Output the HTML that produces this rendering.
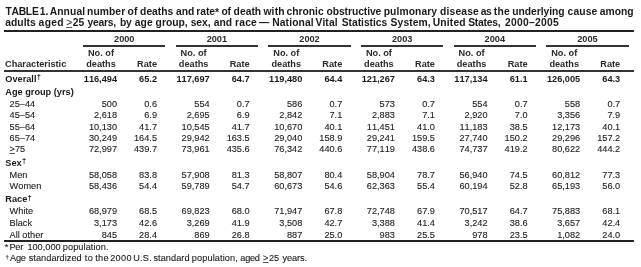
<!DOCTYPE html>
<html><head><meta charset="utf-8"><style>
html,body{margin:0;padding:0;background:#fff;width:641px;height:267px;overflow:hidden;position:relative}
body{filter:blur(0.3px)}
.t{position:absolute;white-space:nowrap;font-kerning:none;font-family:'Liberation Sans', sans-serif;font-size:9.2px;line-height:10px;color:#1a1a1a;-webkit-text-stroke:0.1px #1a1a1a}
.b,.h,.ti{-webkit-text-stroke:0}
.b,.h{font-weight:bold}
.h{color:#2a2a2a}
.ti{font-weight:bold;font-size:10.3px}
.ti.rg{font-weight:normal}
.r{position:absolute}
.rg{font-weight:normal}
sup{vertical-align:baseline;line-height:0;position:relative}
.dg{font-size:7.5px;top:-2.5px;margin-left:0.3px}
.fd{font-size:6px;top:-2px}
u{text-decoration:underline;text-decoration-thickness:1px;text-underline-offset:0.5px;text-decoration-color:#555}
u.rg{margin-right:1px}
</style></head><body>
<div class="t ti" style="left:5.38px;top:6.60px;letter-spacing:-0.228px">TABLE</div>
<div class="t ti" style="left:39.75px;top:6.60px;letter-spacing:0.068px">1.</div>
<div class="t ti" style="left:49.64px;top:6.60px;letter-spacing:0.136px">Annual</div>
<div class="t ti" style="left:87.12px;top:6.60px;letter-spacing:0.053px">number</div>
<div class="t ti" style="left:127.60px;top:6.60px;letter-spacing:0.161px">of</div>
<div class="t ti" style="left:140.08px;top:6.60px;letter-spacing:0.009px">deaths</div>
<div class="t ti" style="left:176.10px;top:6.60px;letter-spacing:-0.115px">and</div>
<div class="t ti" style="left:196.32px;top:6.60px;letter-spacing:-0.054px">rate<span style='position:relative;top:1px'>*</span></div>
<div class="t ti" style="left:221.60px;top:6.60px;letter-spacing:-0.339px">of</div>
<div class="t ti" style="left:233.58px;top:6.60px;letter-spacing:0.023px">death</div>
<div class="t ti" style="left:263.43px;top:6.60px;letter-spacing:0.171px">with</div>
<div class="t ti" style="left:286.60px;top:6.60px;letter-spacing:-0.016px">chronic</div>
<div class="t ti" style="left:326.50px;top:6.60px;letter-spacing:-0.066px">obstructive</div>
<div class="t ti" style="left:383.72px;top:6.60px;letter-spacing:0.085px">pulmonary</div>
<div class="t ti" style="left:439.98px;top:6.60px;letter-spacing:0.180px">disease</div>
<div class="t ti" style="left:480.70px;top:6.60px;letter-spacing:-0.333px">as</div>
<div class="t ti" style="left:493.87px;top:6.60px;letter-spacing:0.214px">the</div>
<div class="t ti" style="left:512.36px;top:6.60px;letter-spacing:-0.047px">underlying</div>
<div class="t ti" style="left:567.50px;top:6.60px;letter-spacing:0.162px">cause</div>
<div class="t ti" style="left:599.70px;top:6.60px;letter-spacing:0.032px">among</div>
<div class="t ti" style="left:5.20px;top:17.60px;letter-spacing:0.059px">adults</div>
<div class="t ti" style="left:38.60px;top:17.60px;letter-spacing:0.314px">aged</div>
<div class="t ti" style="left:72.64px;top:17.60px;letter-spacing:0.187px">25</div>
<div class="t ti" style="left:87.42px;top:17.60px;letter-spacing:-0.223px">years,</div>
<div class="t ti" style="left:120.02px;top:17.60px;letter-spacing:-0.350px">by</div>
<div class="t ti" style="left:134.70px;top:17.60px;letter-spacing:0.153px">age</div>
<div class="t ti" style="left:155.58px;top:17.60px;letter-spacing:0.015px">group,</div>
<div class="t ti" style="left:190.64px;top:17.60px;letter-spacing:0.001px">sex,</div>
<div class="t ti" style="left:213.70px;top:17.60px;letter-spacing:0.035px">and</div>
<div class="t ti" style="left:235.12px;top:17.60px;letter-spacing:0.179px">race</div>
<div class="t ti" style="left:259.00px;top:17.60px;letter-spacing:0.000px">—</div>
<div class="t ti" style="left:272.21px;top:17.60px;letter-spacing:0.127px">National</div>
<div class="t ti" style="left:315.43px;top:17.60px;letter-spacing:0.112px">Vital</div>
<div class="t ti" style="left:341.70px;top:17.60px;letter-spacing:-0.020px">Statistics</div>
<div class="t ti" style="left:390.60px;top:17.60px;letter-spacing:0.097px">System,</div>
<div class="t ti" style="left:432.78px;top:17.60px;letter-spacing:0.171px">United</div>
<div class="t ti" style="left:468.20px;top:17.60px;letter-spacing:-0.215px">States,</div>
<div class="t ti" style="left:505.04px;top:17.60px;letter-spacing:0.261px">2000–2005</div>
<div class="t ti rg" style="left:66.29px;top:17.60px"><u>&gt;</u></div>
<div class="r" style="left:4.40px;width:630.00px;top:30.30px;height:2px;background:#222"></div>
<div class="t h" style="left:74.25px;width:100px;text-align:center;top:33.60px">2000</div>
<div class="r" style="left:83.10px;width:82.30px;top:45.20px;height:2px;background:#333"></div>
<div class="t h" style="left:51.00px;width:100px;text-align:center;top:48.30px">No. of</div>
<div class="t h" style="left:51.00px;width:100px;text-align:center;top:59.00px">deaths</div>
<div class="t h" style="right:484.00px;top:59.00px">Rate</div>
<div class="t h" style="left:166.89px;width:100px;text-align:center;top:33.60px">2001</div>
<div class="r" style="left:175.74px;width:82.30px;top:45.20px;height:2px;background:#333"></div>
<div class="t h" style="left:143.64px;width:100px;text-align:center;top:48.30px">No. of</div>
<div class="t h" style="left:143.64px;width:100px;text-align:center;top:59.00px">deaths</div>
<div class="t h" style="right:391.36px;top:59.00px">Rate</div>
<div class="t h" style="left:259.53px;width:100px;text-align:center;top:33.60px">2002</div>
<div class="r" style="left:268.38px;width:82.30px;top:45.20px;height:2px;background:#333"></div>
<div class="t h" style="left:236.28px;width:100px;text-align:center;top:48.30px">No. of</div>
<div class="t h" style="left:236.28px;width:100px;text-align:center;top:59.00px">deaths</div>
<div class="t h" style="right:298.72px;top:59.00px">Rate</div>
<div class="t h" style="left:352.17px;width:100px;text-align:center;top:33.60px">2003</div>
<div class="r" style="left:361.02px;width:82.30px;top:45.20px;height:2px;background:#333"></div>
<div class="t h" style="left:328.92px;width:100px;text-align:center;top:48.30px">No. of</div>
<div class="t h" style="left:328.92px;width:100px;text-align:center;top:59.00px">deaths</div>
<div class="t h" style="right:206.08px;top:59.00px">Rate</div>
<div class="t h" style="left:444.81px;width:100px;text-align:center;top:33.60px">2004</div>
<div class="r" style="left:453.66px;width:82.30px;top:45.20px;height:2px;background:#333"></div>
<div class="t h" style="left:421.56px;width:100px;text-align:center;top:48.30px">No. of</div>
<div class="t h" style="left:421.56px;width:100px;text-align:center;top:59.00px">deaths</div>
<div class="t h" style="right:113.44px;top:59.00px">Rate</div>
<div class="t h" style="left:537.45px;width:100px;text-align:center;top:33.60px">2005</div>
<div class="r" style="left:546.30px;width:82.30px;top:45.20px;height:2px;background:#333"></div>
<div class="t h" style="left:514.20px;width:100px;text-align:center;top:48.30px">No. of</div>
<div class="t h" style="left:514.20px;width:100px;text-align:center;top:59.00px">deaths</div>
<div class="t h" style="right:20.80px;top:59.00px">Rate</div>
<div class="t h" style="left:5.00px;top:59.00px">Characteristic</div>
<div class="r" style="left:4.40px;width:630.00px;top:70.20px;height:2px;background:#333"></div>
<div class="t b" style="left:5.30px;top:73.60px">Overall<sup class=dg>†</sup></div>
<div class="t b" style="right:524.00px;top:73.60px">116,494</div>
<div class="t b" style="right:484.00px;top:73.60px">65.2</div>
<div class="t b" style="right:431.36px;top:73.60px">117,697</div>
<div class="t b" style="right:391.36px;top:73.60px">64.7</div>
<div class="t b" style="right:338.72px;top:73.60px">119,480</div>
<div class="t b" style="right:298.72px;top:73.60px">64.4</div>
<div class="t b" style="right:246.08px;top:73.60px">121,267</div>
<div class="t b" style="right:206.08px;top:73.60px">64.3</div>
<div class="t b" style="right:153.44px;top:73.60px">117,134</div>
<div class="t b" style="right:113.44px;top:73.60px">61.1</div>
<div class="t b" style="right:60.80px;top:73.60px">126,005</div>
<div class="t b" style="right:20.80px;top:73.60px">64.3</div>
<div class="t b" style="left:5.30px;top:87.00px">Age group (yrs)</div>
<div class="t " style="left:9.60px;top:98.50px">25–44</div>
<div class="t " style="right:524.00px;top:98.50px">500</div>
<div class="t " style="right:484.00px;top:98.50px">0.6</div>
<div class="t " style="right:431.36px;top:98.50px">554</div>
<div class="t " style="right:391.36px;top:98.50px">0.7</div>
<div class="t " style="right:338.72px;top:98.50px">586</div>
<div class="t " style="right:298.72px;top:98.50px">0.7</div>
<div class="t " style="right:246.08px;top:98.50px">573</div>
<div class="t " style="right:206.08px;top:98.50px">0.7</div>
<div class="t " style="right:153.44px;top:98.50px">554</div>
<div class="t " style="right:113.44px;top:98.50px">0.7</div>
<div class="t " style="right:60.80px;top:98.50px">558</div>
<div class="t " style="right:20.80px;top:98.50px">0.7</div>
<div class="t " style="left:9.60px;top:110.00px">45–54</div>
<div class="t " style="right:524.00px;top:110.00px">2,618</div>
<div class="t " style="right:484.00px;top:110.00px">6.9</div>
<div class="t " style="right:431.36px;top:110.00px">2,695</div>
<div class="t " style="right:391.36px;top:110.00px">6.9</div>
<div class="t " style="right:338.72px;top:110.00px">2,842</div>
<div class="t " style="right:298.72px;top:110.00px">7.1</div>
<div class="t " style="right:246.08px;top:110.00px">2,883</div>
<div class="t " style="right:206.08px;top:110.00px">7.1</div>
<div class="t " style="right:153.44px;top:110.00px">2,920</div>
<div class="t " style="right:113.44px;top:110.00px">7.0</div>
<div class="t " style="right:60.80px;top:110.00px">3,356</div>
<div class="t " style="right:20.80px;top:110.00px">7.9</div>
<div class="t " style="left:9.60px;top:121.50px">55–64</div>
<div class="t " style="right:524.00px;top:121.50px">10,130</div>
<div class="t " style="right:484.00px;top:121.50px">41.7</div>
<div class="t " style="right:431.36px;top:121.50px">10,545</div>
<div class="t " style="right:391.36px;top:121.50px">41.7</div>
<div class="t " style="right:338.72px;top:121.50px">10,670</div>
<div class="t " style="right:298.72px;top:121.50px">40.1</div>
<div class="t " style="right:246.08px;top:121.50px">11,451</div>
<div class="t " style="right:206.08px;top:121.50px">41.0</div>
<div class="t " style="right:153.44px;top:121.50px">11,183</div>
<div class="t " style="right:113.44px;top:121.50px">38.5</div>
<div class="t " style="right:60.80px;top:121.50px">12,173</div>
<div class="t " style="right:20.80px;top:121.50px">40.1</div>
<div class="t " style="left:9.60px;top:133.00px">65–74</div>
<div class="t " style="right:524.00px;top:133.00px">30,249</div>
<div class="t " style="right:484.00px;top:133.00px">164.5</div>
<div class="t " style="right:431.36px;top:133.00px">29,942</div>
<div class="t " style="right:391.36px;top:133.00px">163.5</div>
<div class="t " style="right:338.72px;top:133.00px">29,040</div>
<div class="t " style="right:298.72px;top:133.00px">158.9</div>
<div class="t " style="right:246.08px;top:133.00px">29,241</div>
<div class="t " style="right:206.08px;top:133.00px">159.5</div>
<div class="t " style="right:153.44px;top:133.00px">27,740</div>
<div class="t " style="right:113.44px;top:133.00px">150.2</div>
<div class="t " style="right:60.80px;top:133.00px">29,296</div>
<div class="t " style="right:20.80px;top:133.00px">157.2</div>
<div class="t " style="left:9.60px;top:144.30px"><u>&gt;</u>75</div>
<div class="t " style="right:524.00px;top:144.30px">72,997</div>
<div class="t " style="right:484.00px;top:144.30px">439.7</div>
<div class="t " style="right:431.36px;top:144.30px">73,961</div>
<div class="t " style="right:391.36px;top:144.30px">435.6</div>
<div class="t " style="right:338.72px;top:144.30px">76,342</div>
<div class="t " style="right:298.72px;top:144.30px">440.6</div>
<div class="t " style="right:246.08px;top:144.30px">77,119</div>
<div class="t " style="right:206.08px;top:144.30px">438.6</div>
<div class="t " style="right:153.44px;top:144.30px">74,737</div>
<div class="t " style="right:113.44px;top:144.30px">419.2</div>
<div class="t " style="right:60.80px;top:144.30px">80,622</div>
<div class="t " style="right:20.80px;top:144.30px">444.2</div>
<div class="t b" style="left:5.30px;top:157.60px">Sex<sup class=dg>†</sup></div>
<div class="t " style="left:9.60px;top:169.50px">Men</div>
<div class="t " style="right:524.00px;top:169.50px">58,058</div>
<div class="t " style="right:484.00px;top:169.50px">83.8</div>
<div class="t " style="right:431.36px;top:169.50px">57,908</div>
<div class="t " style="right:391.36px;top:169.50px">81.3</div>
<div class="t " style="right:338.72px;top:169.50px">58,807</div>
<div class="t " style="right:298.72px;top:169.50px">80.4</div>
<div class="t " style="right:246.08px;top:169.50px">58,904</div>
<div class="t " style="right:206.08px;top:169.50px">78.7</div>
<div class="t " style="right:153.44px;top:169.50px">56,940</div>
<div class="t " style="right:113.44px;top:169.50px">74.5</div>
<div class="t " style="right:60.80px;top:169.50px">60,812</div>
<div class="t " style="right:20.80px;top:169.50px">77.3</div>
<div class="t " style="left:9.60px;top:181.00px">Women</div>
<div class="t " style="right:524.00px;top:181.00px">58,436</div>
<div class="t " style="right:484.00px;top:181.00px">54.4</div>
<div class="t " style="right:431.36px;top:181.00px">59,789</div>
<div class="t " style="right:391.36px;top:181.00px">54.7</div>
<div class="t " style="right:338.72px;top:181.00px">60,673</div>
<div class="t " style="right:298.72px;top:181.00px">54.6</div>
<div class="t " style="right:246.08px;top:181.00px">62,363</div>
<div class="t " style="right:206.08px;top:181.00px">55.4</div>
<div class="t " style="right:153.44px;top:181.00px">60,194</div>
<div class="t " style="right:113.44px;top:181.00px">52.8</div>
<div class="t " style="right:60.80px;top:181.00px">65,193</div>
<div class="t " style="right:20.80px;top:181.00px">56.0</div>
<div class="t b" style="left:5.30px;top:194.30px">Race<sup class=dg>†</sup></div>
<div class="t " style="left:9.60px;top:206.30px">White</div>
<div class="t " style="right:524.00px;top:206.30px">68,979</div>
<div class="t " style="right:484.00px;top:206.30px">68.5</div>
<div class="t " style="right:431.36px;top:206.30px">69,823</div>
<div class="t " style="right:391.36px;top:206.30px">68.0</div>
<div class="t " style="right:338.72px;top:206.30px">71,947</div>
<div class="t " style="right:298.72px;top:206.30px">67.8</div>
<div class="t " style="right:246.08px;top:206.30px">72,748</div>
<div class="t " style="right:206.08px;top:206.30px">67.9</div>
<div class="t " style="right:153.44px;top:206.30px">70,517</div>
<div class="t " style="right:113.44px;top:206.30px">64.7</div>
<div class="t " style="right:60.80px;top:206.30px">75,883</div>
<div class="t " style="right:20.80px;top:206.30px">68.1</div>
<div class="t " style="left:9.60px;top:217.80px">Black</div>
<div class="t " style="right:524.00px;top:217.80px">3,173</div>
<div class="t " style="right:484.00px;top:217.80px">42.6</div>
<div class="t " style="right:431.36px;top:217.80px">3,269</div>
<div class="t " style="right:391.36px;top:217.80px">41.9</div>
<div class="t " style="right:338.72px;top:217.80px">3,508</div>
<div class="t " style="right:298.72px;top:217.80px">42.7</div>
<div class="t " style="right:246.08px;top:217.80px">3,388</div>
<div class="t " style="right:206.08px;top:217.80px">41.4</div>
<div class="t " style="right:153.44px;top:217.80px">3,242</div>
<div class="t " style="right:113.44px;top:217.80px">38.6</div>
<div class="t " style="right:60.80px;top:217.80px">3,657</div>
<div class="t " style="right:20.80px;top:217.80px">42.4</div>
<div class="t " style="left:9.60px;top:229.80px">All other</div>
<div class="t " style="right:524.00px;top:229.80px">845</div>
<div class="t " style="right:484.00px;top:229.80px">28.4</div>
<div class="t " style="right:431.36px;top:229.80px">869</div>
<div class="t " style="right:391.36px;top:229.80px">26.8</div>
<div class="t " style="right:338.72px;top:229.80px">887</div>
<div class="t " style="right:298.72px;top:229.80px">25.0</div>
<div class="t " style="right:246.08px;top:229.80px">983</div>
<div class="t " style="right:206.08px;top:229.80px">25.5</div>
<div class="t " style="right:153.44px;top:229.80px">978</div>
<div class="t " style="right:113.44px;top:229.80px">23.5</div>
<div class="t " style="right:60.80px;top:229.80px">1,082</div>
<div class="t " style="right:20.80px;top:229.80px">24.0</div>
<div class="r" style="left:4.40px;width:630.00px;top:240.30px;height:2px;background:#222"></div>
<div class="t " style="left:4.80px;top:242.20px">*</div>
<div class="t " style="left:5.40px;top:252.70px"><sup class=fd>†</sup></div>
<div class="t " style="left:9.55px;top:242.20px;letter-spacing:-0.305px">Per</div>
<div class="t " style="left:27.40px;top:242.20px;letter-spacing:0.001px">100,000</div>
<div class="t " style="left:62.81px;top:242.20px;letter-spacing:0.072px">population.</div>
<div class="t " style="left:9.98px;top:252.70px;letter-spacing:-0.171px">Age</div>
<div class="t " style="left:28.74px;top:252.70px;letter-spacing:0.034px">standardized</div>
<div class="t " style="left:84.86px;top:252.70px;letter-spacing:0.350px">to</div>
<div class="t " style="left:95.16px;top:252.70px;letter-spacing:0.279px">the</div>
<div class="t " style="left:110.14px;top:252.70px;letter-spacing:0.350px">2000</div>
<div class="t " style="left:133.29px;top:252.70px;letter-spacing:0.186px">U.S.</div>
<div class="t " style="left:153.44px;top:252.70px;letter-spacing:0.049px">standard</div>
<div class="t " style="left:191.81px;top:252.70px;letter-spacing:0.100px">population,</div>
<div class="t " style="left:240.31px;top:252.70px;letter-spacing:-0.261px">aged</div>
<div class="t " style="left:268.94px;top:252.70px;letter-spacing:-0.084px">25</div>
<div class="t " style="left:282.48px;top:252.70px;letter-spacing:-0.098px">years.</div>
<div class="t " style="left:263.05px;top:252.70px"><u>&gt;</u></div>
</body></html>
